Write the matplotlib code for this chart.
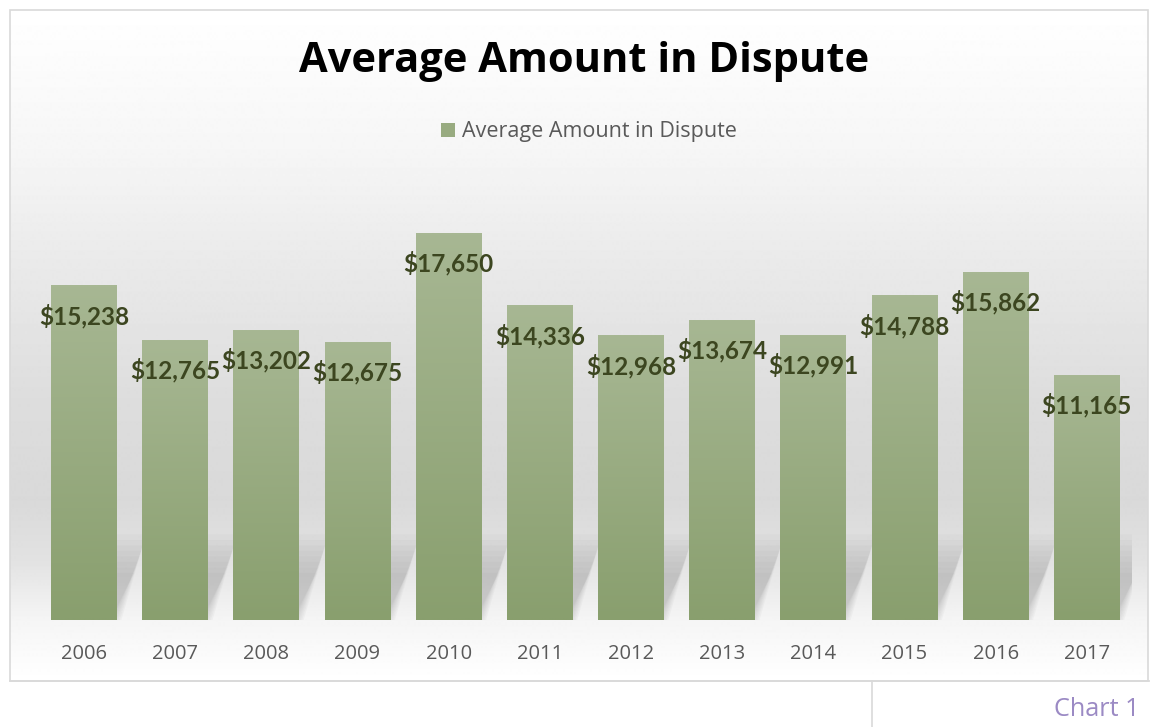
import numpy as np
import matplotlib
matplotlib.use("Agg")
import matplotlib.pyplot as plt
from matplotlib.patches import Rectangle, Polygon
from matplotlib.colors import to_rgb

# ---- data ----
years = ["2006", "2007", "2008", "2009", "2010", "2011",
         "2012", "2013", "2014", "2015", "2016", "2017"]
amounts = [15238, 12765, 13202, 12675, 17650, 14336,
           12968, 13674, 12991, 14788, 15862, 11165]
series_name = "Average Amount in Dispute"
title = "Average Amount in Dispute"
caption = "Chart 1"

W, H = 1150, 727
fig = plt.figure(figsize=(W / 100, H / 100), dpi=100)
fig.patch.set_facecolor("white")

# ---- background (pixel coordinates) ----
bg = fig.add_axes([0, 0, 1, 1])
bg.set_xlim(0, W)
bg.set_ylim(H, 0)
bg.axis("off")
stops_y = [10, 150, 260, 400, 500, 560, 620, 681]
stops_c = [255, 246, 234, 221, 217, 226, 245, 255]
ys = np.arange(10, 682)
vals = np.interp(ys, stops_y, stops_c) / 255.0
grad = np.repeat(vals[:, None], 2, axis=1)
bg.imshow(grad, cmap="gray", vmin=0, vmax=1, extent=(10, 1148, 681, 10),
          aspect="auto", zorder=0, interpolation="bilinear")
bg.add_patch(Rectangle((10, 10), 1138, 671, fill=False, edgecolor="#d9d9d9", lw=1.2, zorder=1))
bg.plot([10, W], [681, 681], color="#d9d9d9", lw=1.2, zorder=1)
bg.plot([872, 872], [681, H], color="#d9d9d9", lw=1.2, zorder=1)

# ---- main axes ----
ax = fig.add_axes([38.4 / W, (H - 620) / H, 1094 / W, 438.4 / H])
ax.set_facecolor("none")
x = np.arange(len(years))
bw = 0.72
ymax = 20000

# shadows (decorative, derived from bar positions)
for xi in x:
    xl, xr = xi - bw / 2, xi + bw / 2
    for k in range(8):
        s = k * 0.018
        dy = 3900 - k * 250
        poly = Polygon([(xl + s, 0), (xr - s + 0.05, 0), (xr + 0.32 - s, dy),
                        (xl + 0.32 + s, dy)],
                       closed=True, facecolor="#9a9a9a", edgecolor="none",
                       alpha=0.07, zorder=1)
        ax.add_patch(poly)

bars = ax.bar(x, amounts, width=bw, color="#98ab80", edgecolor="none",
              zorder=2, label=series_name)

top_c = np.array(to_rgb("#a7b793"))
bot_c = np.array(to_rgb("#899f6e"))
t = np.linspace(0, 1, 100)[:, None]
gimg = (top_c[None, :] * (1 - t) + bot_c[None, :] * t)[:, None, :]
for b in bars:
    x0 = b.get_x()
    ax.imshow(gimg, extent=(x0, x0 + b.get_width(), 0, b.get_height()),
              aspect="auto", zorder=3, interpolation="bilinear")

for xi, v in zip(x, amounts):
    ax.annotate(f"${v:,}", xy=(xi, v), xytext=(0, -30), textcoords="offset pixels",
                ha="center", va="center", fontsize=17.5, fontweight="bold",
                color="#3c4620", family="Lato", zorder=5)

ax.set_xlim(-0.5, len(years) - 0.5)
ax.set_ylim(0, ymax)
ax.set_xticks(x)
ax.set_xticklabels(years, fontsize=14.5, color="#595959", family="Open Sans")
ax.tick_params(axis="x", length=0, pad=17)
ax.set_yticks([])
for sp in ax.spines.values():
    sp.set_visible(False)

# ---- title, legend, caption ----
fig.text(584 / W, 1 - 62 / H, title, ha="center", va="center",
         fontsize=30, fontweight="bold", color="black", family="Open Sans")
ax.legend(loc="center", bbox_to_anchor=(589 / W, 1 - 132 / H),
          bbox_transform=fig.transFigure, frameon=False,
          prop={"family": "Open Sans", "size": 15.5},
          labelcolor="#595959", handlelength=0.65, handleheight=0.65,
          handletextpad=0.35)
fig.text(1140 / W, 1 - 710 / H, caption, ha="right", va="center",
         fontsize=18.2, color="#9b8ac4", family="Open Sans")

fig.savefig("out.png", dpi=100)
